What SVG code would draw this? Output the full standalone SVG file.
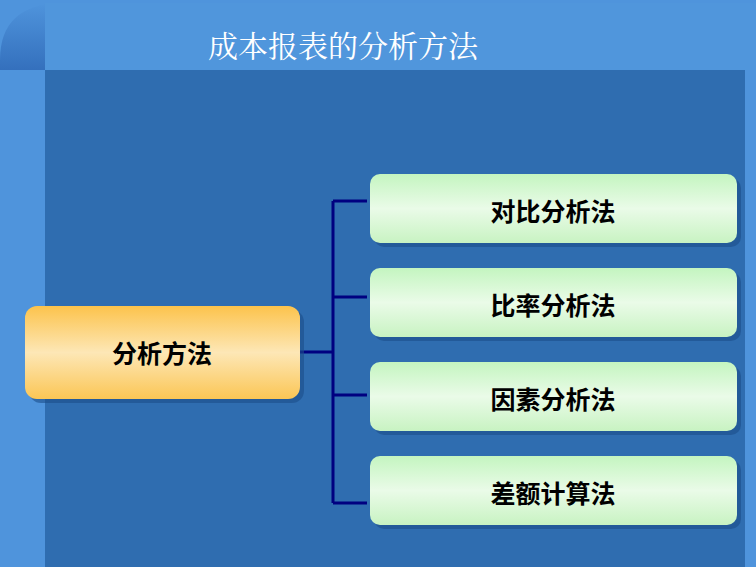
<svg xmlns="http://www.w3.org/2000/svg" width="756" height="567" viewBox="0 0 756 567">
<defs>
<linearGradient id="g" x1="0" y1="0" x2="0" y2="1"><stop offset="0" stop-color="#c4f5c0"/><stop offset="0.5" stop-color="#eafbe8"/><stop offset="1" stop-color="#c8f3c2"/></linearGradient>
<linearGradient id="o" x1="0" y1="0" x2="0" y2="1"><stop offset="0" stop-color="#fcc34c"/><stop offset="0.5" stop-color="#fde7b6"/><stop offset="1" stop-color="#fbc655"/></linearGradient>
<linearGradient id="c" x1="0" y1="0" x2="0" y2="1"><stop offset="0" stop-color="#4f94dc"/><stop offset="1" stop-color="#3470bd"/></linearGradient>
<style>
.b{stroke:none}
.t{font-family:"Noto Sans CJK SC",sans-serif;font-size:25px;font-weight:bold;fill:#000;text-anchor:middle;dominant-baseline:central}
.l{stroke:#000080;stroke-width:3;fill:none}
.s{fill:#1d4f8a;opacity:0.6}
</style>
</defs>
<rect width="756" height="567" fill="#4f94dc"/>
<path d="M0 70 L0 60 Q0 5 60 3 L756 3 L756 70 Z" fill="url(#c)"/>
<rect x="45" y="3" width="711" height="67" fill="#5096dc"/>
<rect x="45" y="70" width="700" height="497" fill="#2f6db0"/>
<text x="343" y="44" style="font-family:'Noto Serif CJK SC','Noto Sans CJK SC',serif;font-size:30px;fill:#fff;text-anchor:middle;dominant-baseline:central">成本报表的分析方法</text>
<g id="connectors">
<path class="l" d="M300 352 H333 M333 201 V503 M333 201 H367 M333 297 H367 M333 395 H367 M333 503 H367"/>
</g>
<g id="n0"><rect class="s" x="29" y="310" width="275" height="93" rx="12"/><rect x="25" y="306" width="275" height="93" rx="12" fill="url(#o)"/><text class="t" x="162" y="352">分析方法</text></g>
<g id="n1"><rect class="s" x="374" y="178" width="367" height="69" rx="10"/><rect x="370" y="174" width="367" height="69" rx="10" fill="url(#g)"/><text class="t" x="553" y="210">对比分析法</text></g>
<g id="n2"><rect class="s" x="374" y="272" width="367" height="69" rx="10"/><rect x="370" y="268" width="367" height="69" rx="10" fill="url(#g)"/><text class="t" x="553" y="304">比率分析法</text></g>
<g id="n3"><rect class="s" x="374" y="366" width="367" height="69" rx="10"/><rect x="370" y="362" width="367" height="69" rx="10" fill="url(#g)"/><text class="t" x="553" y="398">因素分析法</text></g>
<g id="n4"><rect class="s" x="374" y="460" width="367" height="69" rx="10"/><rect x="370" y="456" width="367" height="69" rx="10" fill="url(#g)"/><text class="t" x="553" y="492">差额计算法</text></g>
</svg>
